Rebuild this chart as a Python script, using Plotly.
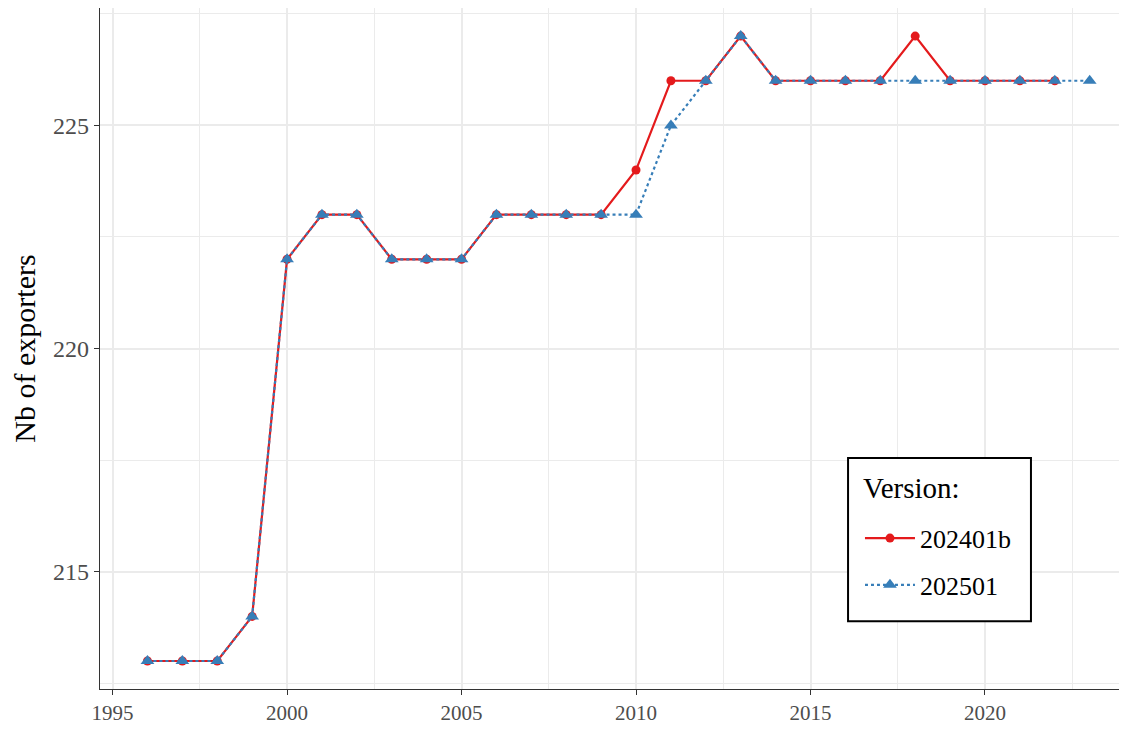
import plotly.graph_objects as go

years_a = list(range(1996, 2023))
vals_a = [213, 213, 213, 214, 222, 223, 223, 222, 222, 222, 223, 223, 223, 223,
          224, 226, 226, 227, 226, 226, 226, 226, 227, 226, 226, 226, 226]
years_b = list(range(1996, 2024))
vals_b = [213, 213, 213, 214, 222, 223, 223, 222, 222, 222, 223, 223, 223, 223,
          223, 225, 226, 227, 226, 226, 226, 226, 226, 226, 226, 226, 226, 226]
x_ticks = [1995, 2000, 2005, 2010, 2015, 2020]
y_ticks = [215, 220, 225]

FONT = "Liberation Serif"

fig = go.Figure()
fig.add_trace(go.Scatter(
    x=years_a, y=vals_a, name="202401b", mode="lines+markers", legendgroup="a",
    line=dict(color="#E41A1C", width=2.2),
    marker=dict(symbol="circle", size=9, color="#E41A1C"),
))
fig.add_trace(go.Scatter(
    x=years_b, y=vals_b, name="202501", mode="lines+markers", legendgroup="b",
    line=dict(color="#377EB8", width=2.2, dash="dot"),
    marker=dict(symbol="triangle-up", size=12, color="#377EB8"),
))

axis_common = dict(
    showline=True, linecolor="#333333", linewidth=1.2, mirror=True,
    ticks="outside", ticklen=5, tickcolor="#333333", tickwidth=1.2,
    gridcolor="#EBEBEB", gridwidth=2, zeroline=False, automargin=False,
)

# legend frame (white box with black border) behind the legend
fig.add_shape(type="rect", xref="paper", yref="paper",
              x0=0.7341, x1=0.9136, y0=0.0994, y1=0.3392,
              line=dict(color="black", width=2), fillcolor="white", layer="above")
fig.add_annotation(text="Version:", xref="paper", yref="paper",
                   x=0.7468, y=0.2953, xanchor="left", yanchor="middle",
                   showarrow=False, font=dict(family=FONT, size=29, color="black"))

fig.update_layout(
    width=1111, height=717,
    margin=dict(l=92, r=0, t=0, b=36),
    paper_bgcolor="white", plot_bgcolor="white",
    font=dict(family=FONT, color="black"),
    xaxis=dict(range=[1994.64, 2023.84], tickvals=x_ticks,
               tickfont=dict(family=FONT, size=21, color="#4D4D4D"),
               minor=dict(dtick=2.5, tick0=1997.5, showgrid=True, gridcolor="#EBEBEB", gridwidth=1, ticks=""),
               **axis_common),
    yaxis=dict(range=[212.373, 227.63], tickvals=y_ticks,
               tickfont=dict(family=FONT, size=24, color="#4D4D4D"),
               title=dict(text="Nb of exporters", font=dict(family=FONT, size=30, color="black"), standoff=10),
               minor=dict(dtick=2.5, tick0=212.5, showgrid=True, gridcolor="#EBEBEB", gridwidth=1, ticks=""),
               **axis_common),
    showlegend=True,
    legend=dict(
        x=0.7458, y=0.256, xanchor="left", yanchor="top",
        bgcolor="rgba(0,0,0,0)", borderwidth=0,
        font=dict(family=FONT, size=26, color="black"),
        itemwidth=50, tracegroupgap=10,
    ),
)

fig.write_html("out.html")
